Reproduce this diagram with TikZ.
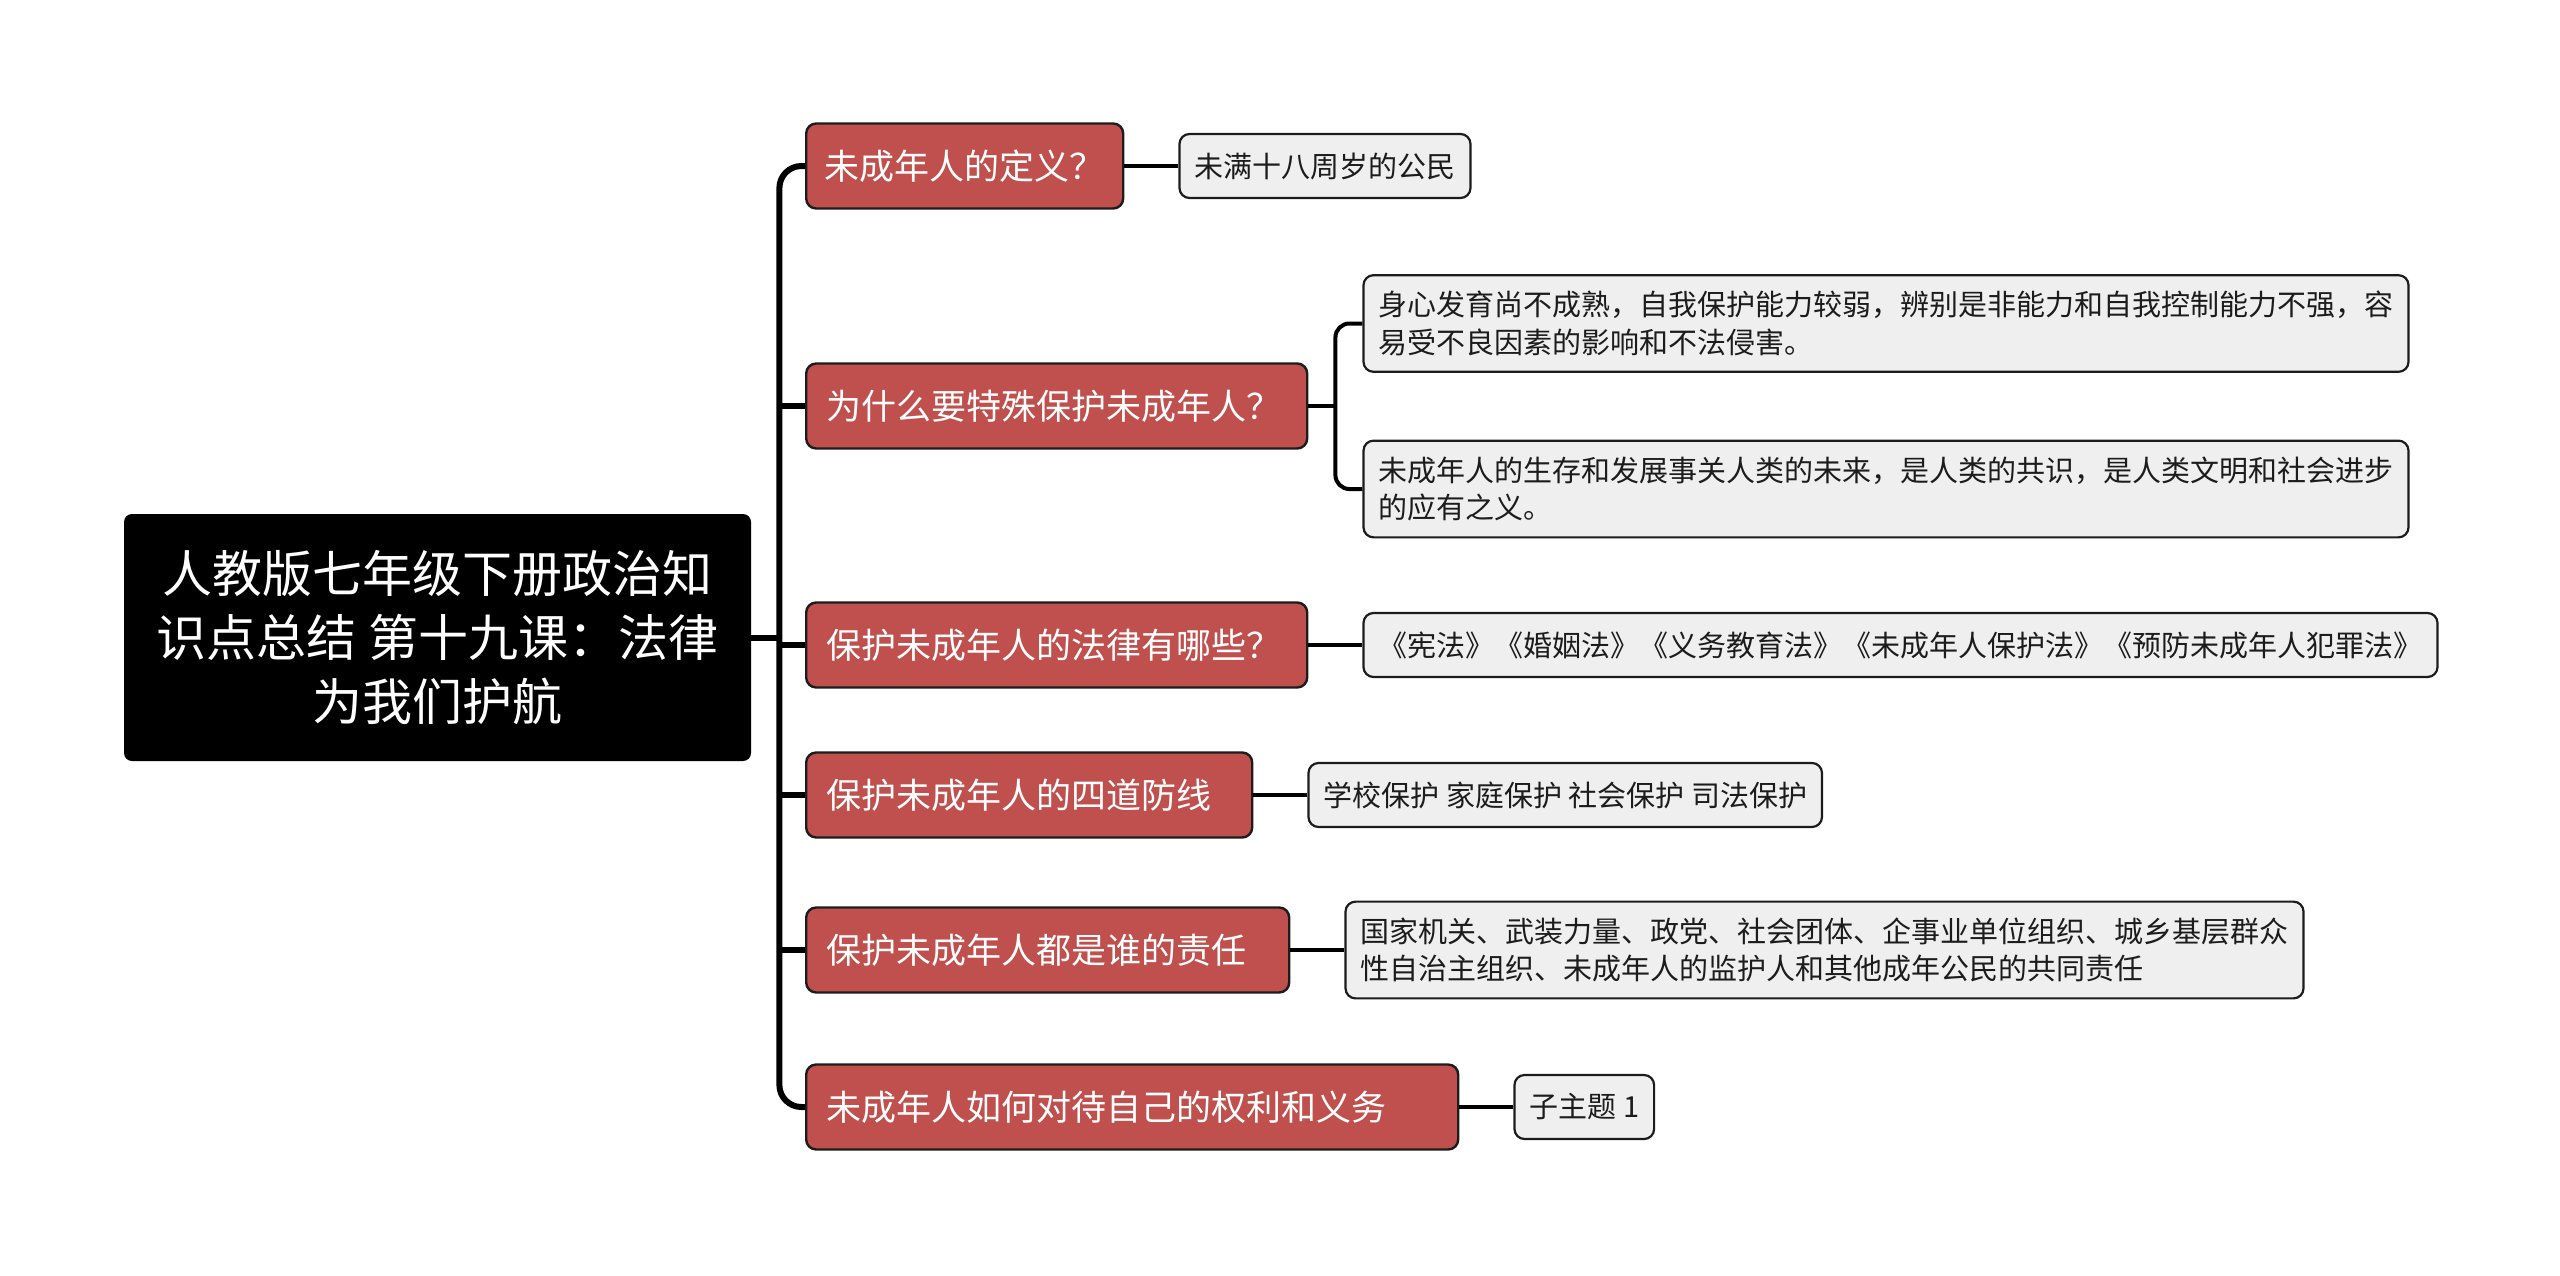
\documentclass[tikz,border=0pt]{standalone}
\usepackage{fontspec}
\setmainfont{Noto Sans CJK SC}
\usepackage{tikz}
\usetikzlibrary{positioning}
\definecolor{branchred}{HTML}{C0504D}
\definecolor{leafgrey}{HTML}{EFEFEF}
\definecolor{inkdark}{HTML}{1C1C1C}

\begin{document}
\begin{tikzpicture}[x=0.5pt,y=-0.5pt,
  rootbox/.style={fill=black,rounded corners=4pt,text=white,align=center,
                  minimum width=313.5pt,minimum height=123.5pt,
                  font=\fontsize{25}{32}\selectfont},
  branch/.style={draw=inkdark,line width=1.2pt,fill=branchred,rounded corners=5pt,
                 text=white,minimum height=42.5pt,inner xsep=10pt,anchor=west,
                 align=left,font=\fontsize{17.5}{22}\selectfont},
  leaf/.style={draw=inkdark,line width=1.1pt,fill=leafgrey,rounded corners=5pt,
               text=inkdark,minimum height=32pt,inner xsep=7.5pt,inner ysep=8pt,
               align=left,font=\fontsize{14.5}{18.8}\selectfont},
  trunk/.style={line width=3pt,draw=black,rounded corners=11pt},
  twig/.style={line width=2pt,draw=black,rounded corners=7pt}
]
\useasboundingbox (0,0) rectangle (2560,1275);

% root and main branches
\node[rootbox] (root) at (437.5,637.5)
     {人教版七年级下册政治知\\识点总结 第十九课：法律\\为我们护航};
\coordinate[right=14pt of root] (hub);

\node[branch,inner xsep=9pt,text width=140.5pt] (b1) at (805,166) {未成年人的定义？};
\node[branch,text width=230.5pt] (b2) at (805,406) {为什么要特殊保护未成年人？};
\node[branch,text width=230.5pt] (b3) at (805,645) {保护未成年人的法律有哪些？};
\node[branch,text width=203pt]   (b4) at (805,795) {保护未成年人的四道防线};
\node[branch,text width=221.5pt] (b5) at (805,950) {保护未成年人都是谁的责任};
\node[branch,text width=306pt]   (b6) at (805,1107) {未成年人如何对待自己的权利和义务};

% leaves
\node[leaf,right=27pt of b1] (l1) {未满十八周岁的公民};
\node[leaf,right=27pt of b2,yshift=41.25pt] (l2a)
     {身心发育尚不成熟，自我保护能力较弱，辨别是非能力和自我控制能力不强，容\\易受不良因素的影响和不法侵害。};
\node[leaf,right=27pt of b2,yshift=-41.5pt] (l2b)
     {未成年人的生存和发展事关人类的未来，是人类的共识，是人类文明和社会进步\\的应有之义。};
\node[leaf,right=27pt of b3] (l3)
     {《宪法》《婚姻法》《义务教育法》《未成年人保护法》《预防未成年人犯罪法》};
\node[leaf,right=27pt of b4] (l4) {学校保护 家庭保护 社会保护 司法保护};
\node[leaf,right=27pt of b5] (l5)
     {国家机关、武装力量、政党、社会团体、企事业单位组织、城乡基层群众\\性自治主组织、未成年人的监护人和其他成年公民的共同责任};
\node[leaf,right=27pt of b6] (l6) {子主题 1};

% connectors
\draw[trunk] (root.east) -- (hub);
\draw[trunk] (b1.west) -| (hub) |- (b6.west);
\foreach \b in {b2,b3,b4,b5}
  \draw[trunk] (hub |- \b.west) -- (\b.west);

\coordinate[right=13.5pt of b2] (fork2);
\draw[twig] (b2.east) -- (fork2);
\draw[twig] (l2a.west) -| (fork2) |- (l2b.west);
\foreach \b/\l in {b1/l1,b3/l3,b4/l4,b5/l5,b6/l6}
  \draw[twig] (\b.east) -- (\l.west);
\end{tikzpicture}
\end{document}
